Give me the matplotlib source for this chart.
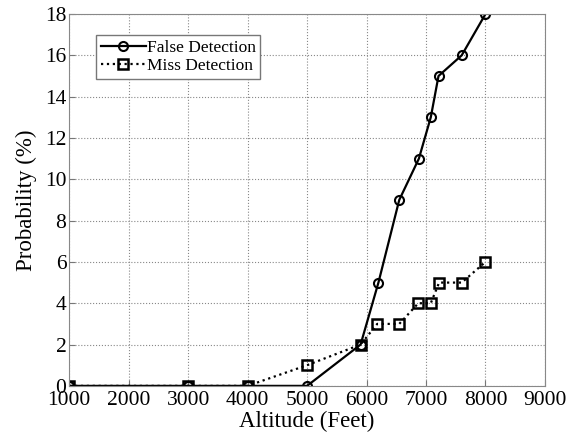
import numpy as np
import matplotlib.pyplot as plt

plt.rcParams['font.family'] = ['Liberation Serif', 'DejaVu Serif']

# altitude (feet) and probability (%)
false_alt = [1000, 3000, 4000, 5000, 5900, 6200, 6550, 6880, 7080, 7210, 7600, 8000]
false_prob = [0, 0, 0, 0, 2, 5, 9, 11, 13, 15, 16, 18]

miss_alt = [1000, 3000, 4000, 5000, 5900, 6180, 6550, 6870, 7080, 7220, 7600, 8000]
miss_prob = [0, 0, 0, 1, 2, 3, 3, 4, 4, 5, 5, 6]

x_ticks = [1000, 2000, 3000, 4000, 5000, 6000, 7000, 8000, 9000]
y_ticks = [0, 2, 4, 6, 8, 10, 12, 14, 16, 18]

fig = plt.figure(figsize=(5.81, 4.38), dpi=100)
ax = fig.add_axes([0.119, 0.119, 0.819, 0.849])

ax.plot(false_alt, false_prob, color='black', linestyle='-', linewidth=1.6,
        marker='o', markersize=6.5, markerfacecolor='none', markeredgewidth=1.5,
        label='False Detection')
ax.plot(miss_alt, miss_prob, color='black', linestyle=':', linewidth=1.6,
        marker='s', markersize=6.5, markerfacecolor='none', markeredgewidth=1.8,
        label='Miss Detection')

ax.set_xlim(1000, 9000)
ax.set_ylim(0, 18)
ax.set_xticks(x_ticks)
ax.set_yticks(y_ticks)
ax.tick_params(direction='in', labelsize=15.5, length=4, color='#777777')
ax.tick_params(axis='x', pad=4)
ax.tick_params(axis='y', pad=2)
ax.grid(True, linestyle=':', color='#888888', linewidth=0.8)
for s in ax.spines.values():
    s.set_color('#888888')

ax.set_xlabel('Altitude (Feet)', fontsize=16.5, labelpad=0)
ax.set_ylabel('Probability (%)', fontsize=16.5, labelpad=6)

leg = ax.legend(loc='upper left', bbox_to_anchor=(0.057, 0.943), fontsize=12.5,
                handlelength=2.6, handletextpad=0.05, borderpad=0.25,
                labelspacing=0.15, borderaxespad=0, fancybox=False, framealpha=1)
leg.get_frame().set_edgecolor('#777777')
leg.get_frame().set_linewidth(1.0)

fig.savefig('out.png', dpi=100)
